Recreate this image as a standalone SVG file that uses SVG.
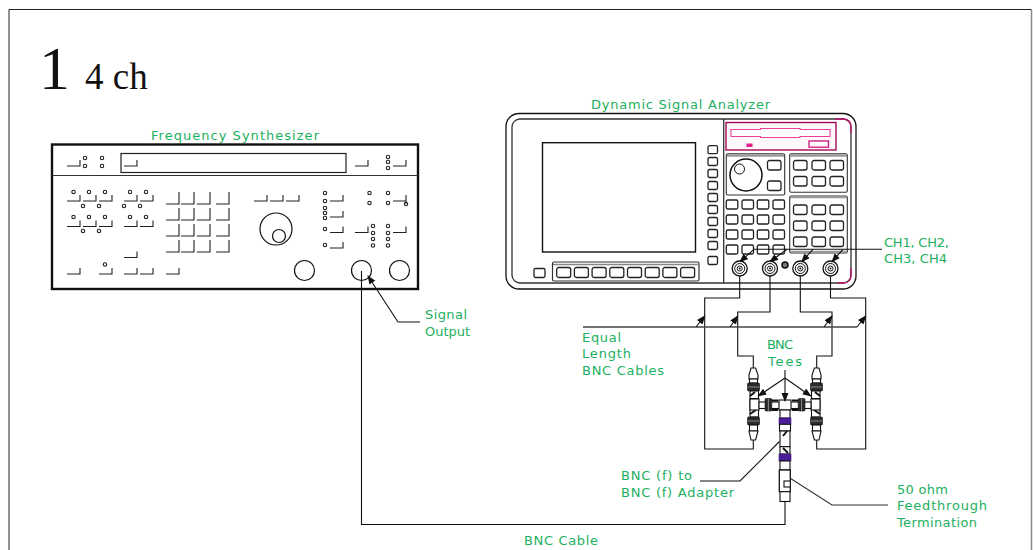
<svg xmlns="http://www.w3.org/2000/svg" xmlns:xlink="http://www.w3.org/1999/xlink" width="1033" height="550" viewBox="0 0 1033 550">
<style>
.t{font-family:"Liberation Serif",serif;fill:#111}
.l{font-family:"DejaVu Sans",sans-serif;font-size:13px;fill:#1cb060}
.o{fill:none;stroke:#111;stroke-width:1.2}
.k{fill:#fff;stroke:#222;stroke-width:1.3}
.c{fill:none;stroke:#111;stroke-width:1.1}
.m{fill:none;stroke:#c0106a;stroke-width:1.3}
.w{fill:#fff;stroke:#111;stroke-width:1.1}
.h{fill:#2a2a2a;stroke:#111;stroke-width:.6}
.z{fill:none;stroke:#111;stroke-width:2}
</style>
<defs>
<marker id="a" markerWidth="10" markerHeight="8" refX="8" refY="3.500" orient="auto" markerUnits="userSpaceOnUse"><path d="M0 0L9 3.500L0 7Z" fill="#111"/></marker>
<path id="s" d="M0 0H13V-6" fill="none" stroke="#222" stroke-width="1.1"/>
<path id="g" d="M0 0H13V-12" fill="none" stroke="#222" stroke-width="1.1"/>
<circle id="d" r="1.700" fill="none" stroke="#222" stroke-width="1.100"/>
<rect id="b" width="13.500" height="9.500" rx="2" class="k"/>
<rect id="p" width="11.500" height="9" rx="1.500" class="k"/>
<rect id="v" width="9.500" height="8" rx="1.500" class="k"/>
<rect id="f" width="14" height="10" rx="2" class="k"/>
<g id="j"><circle r="7.500" fill="#fff" stroke="#111" stroke-width="1.300"/><circle r="5" fill="none" stroke="#111"/><circle r="2.500" fill="none" stroke="#111"/><circle r="1" fill="#111"/></g>
<g id="half">
<path class="w" d="M751 368H755.600L758 375V379H749V375Z"/>
<rect class="w" x="749.500" y="379" width="8" height="4"/>
<rect class="h" x="747.500" y="383" width="12" height="8" rx="1"/>
<path d="M748 387H759" stroke="#888"/>
<rect class="w" x="750" y="391" width="8.500" height="26"/>
<path class="z" d="M750 396L755 392M750 399H758.500M750 414L756 410"/>
<rect class="h" x="747.500" y="417" width="12" height="8" rx="1"/>
<path d="M748 421H759" stroke="#888"/>
<rect class="w" x="749.500" y="425" width="8" height="6"/>
<path class="w" d="M749 431H758L755.600 440H751Z"/>
<rect class="w" x="750" y="399" width="9" height="11"/>
<rect class="w" x="759" y="402" width="20.500" height="6.500"/>
<rect class="h" x="765" y="398.500" width="6.800" height="12.500" rx="1"/>
<path d="M768.400 399V411" stroke="#888"/>
<path class="z" d="M771.800 400.500H778M771.800 410H778"/>
</g>
</defs>

<path d="M9 9.500H1031.500M9 9.500V550" fill="none" stroke="#222"/>
<path d="M1031.500 10V550" stroke="#888" stroke-width="1.500"/>
<g id="title">
<text class="t" x="39" y="89" font-size="62">1</text>
<text class="t" x="85" y="89" font-size="37">4 ch</text>
</g>

<g id="synthesizer">
<rect x="52" y="144.500" width="366" height="144.500" fill="#fff" stroke="#111" stroke-width="2.400"/>
<path d="M52 175.500H418" stroke="#333" stroke-width="1.200"/>
<rect x="121" y="153.500" width="225" height="19" fill="none" stroke="#222" stroke-width="1.200"/>
<g>
<use href="#s" x="67" y="166"/><use href="#s" x="124" y="166"/><use href="#s" x="355" y="166"/><use href="#s" x="393" y="166"/>
<use href="#d" x="85" y="158"/><use href="#d" x="85" y="166"/><use href="#d" x="102" y="158"/><use href="#d" x="102" y="166"/>
<use href="#d" x="388" y="157"/><use href="#d" x="388" y="162"/><use href="#d" x="388" y="168"/>
<use href="#s" x="67" y="201"/><use href="#s" x="83" y="201"/><use href="#s" x="99" y="201"/><use href="#s" x="124" y="201"/><use href="#s" x="140" y="201"/>
<use href="#d" x="73.500" y="192"/><use href="#d" x="89" y="192"/><use href="#d" x="105" y="192"/><use href="#d" x="130" y="192"/><use href="#d" x="146" y="192"/>
<use href="#d" x="83" y="206"/><use href="#d" x="99" y="206"/><use href="#d" x="124" y="206"/><use href="#d" x="140" y="206"/>
<use href="#s" x="67" y="226.500"/><use href="#s" x="83" y="226.500"/><use href="#s" x="99" y="226.500"/><use href="#s" x="124" y="226.500"/><use href="#s" x="140" y="226.500"/>
<use href="#d" x="73.500" y="217"/><use href="#d" x="89" y="217"/><use href="#d" x="105" y="217"/><use href="#d" x="130" y="217"/><use href="#d" x="146" y="217"/>
<use href="#d" x="83" y="231"/><use href="#d" x="99" y="231"/>
<use href="#g" x="166" y="204"/><use href="#g" x="181" y="204"/><use href="#g" x="197" y="204"/><use href="#g" x="216" y="204"/>
<use href="#g" x="166" y="220"/><use href="#g" x="181" y="220"/><use href="#g" x="197" y="220"/><use href="#g" x="216" y="220"/>
<use href="#g" x="166" y="236"/><use href="#g" x="181" y="236"/><use href="#g" x="197" y="236"/><use href="#g" x="216" y="236"/>
<use href="#g" x="166" y="252"/><use href="#g" x="181" y="252"/><use href="#g" x="197" y="252"/><use href="#g" x="216" y="252"/>
<use href="#s" x="124" y="257.500"/>
<use href="#s" x="67" y="274"/><use href="#s" x="99" y="274"/><use href="#s" x="124" y="274"/><use href="#s" x="140" y="274"/><use href="#s" x="166" y="274"/>
<use href="#d" x="105" y="264.500"/>
<use href="#s" x="254" y="201"/><use href="#s" x="270" y="201"/><use href="#s" x="286" y="201"/>
<use href="#s" x="330" y="201"/><use href="#s" x="330" y="217"/><use href="#s" x="330" y="232.500"/><use href="#s" x="330" y="248"/>
<use href="#d" x="325" y="193"/><use href="#d" x="325" y="201"/><use href="#d" x="325" y="208"/><use href="#d" x="325" y="213"/><use href="#d" x="325" y="218"/><use href="#d" x="325" y="229"/><use href="#d" x="325" y="245"/>
<use href="#d" x="369.500" y="193"/><use href="#d" x="369.500" y="203"/><use href="#d" x="388" y="193"/><use href="#d" x="388" y="203"/><use href="#s" x="393" y="201"/><path d="M406 201V204" stroke="#222"/><use href="#d" x="406" y="204"/>
<use href="#s" x="355" y="232.500"/><use href="#s" x="393" y="232.500"/>
<use href="#d" x="373" y="226"/><use href="#d" x="373" y="233"/><use href="#d" x="373" y="239"/><use href="#d" x="373" y="245.500"/>
<use href="#d" x="388" y="226"/><use href="#d" x="388" y="233"/><use href="#d" x="388" y="239"/><use href="#d" x="388" y="245.500"/>
</g>
<circle class="o" cx="276" cy="229" r="16"/><circle class="o" cx="279" cy="236" r="6.500"/>
<circle class="o" cx="304.500" cy="270.500" r="10"/><circle class="o" cx="361.500" cy="270.500" r="10"/><circle class="o" cx="399.500" cy="270.500" r="10"/>
</g>

<g id="analyzer">
<rect x="506" y="113.500" width="350" height="175.500" rx="13" fill="#fff" stroke="#111" stroke-width="1.300"/>
<rect x="512" y="119" width="339" height="164" rx="8" fill="none" stroke="#333" stroke-width="1.300"/>
<path class="m" d="M835 119H843Q851 119 851 127V133M851 268V275Q851 283 843 283H838"/>
<path d="M723.700 119V283" stroke="#333" stroke-width="1.300"/>
<rect x="542.500" y="142.700" width="153" height="109.300" fill="#fff" stroke="#111" stroke-width="1.400"/>
<rect x="534" y="268.500" width="11" height="9" rx="1.500" class="k"/>
<rect x="552.500" y="262" width="146.500" height="19" rx="1.500" fill="#fff" stroke="#333" stroke-width="1.200"/>
<path d="M553 264.500H698" stroke="#888" stroke-width="1.500"/>
<use href="#f" x="556.700" y="267.500"/><use href="#f" x="574.400" y="267.500"/><use href="#f" x="592.100" y="267.500"/><use href="#f" x="609.800" y="267.500"/><use href="#f" x="627.500" y="267.500"/><use href="#f" x="645.200" y="267.500"/><use href="#f" x="662.900" y="267.500"/><use href="#f" x="680.600" y="267.500"/>
<use href="#v" x="708" y="145.700"/><use href="#v" x="708" y="157.500"/><use href="#v" x="708" y="169.500"/><use href="#v" x="708" y="181.500"/><use href="#v" x="708" y="193.500"/><use href="#v" x="708" y="205.500"/><use href="#v" x="708" y="217.500"/><use href="#v" x="708" y="229.500"/><use href="#v" x="708" y="241.500"/><use href="#v" x="708" y="256.500"/>
<g id="floppy">
<rect x="726" y="122.500" width="110" height="27.500" fill="#fff8fb" stroke="#a00a5a" stroke-width="1.400"/>
<path d="M731 129.500H760.500V128.500H800V129.500H830V136.500H800V137.500H760.500V136.500H731Z" fill="#fff" stroke="#e8409a" stroke-width="1.100"/>
<rect x="746.500" y="143.500" width="6" height="3.500" fill="#e0208a"/>
<rect x="809" y="141" width="19.500" height="6.200" fill="#fff" stroke="#d01078" stroke-width="1.300"/>
</g>
<rect x="726.300" y="153.700" width="58.400" height="41.300" rx="1.500" fill="#fff" stroke="#333" stroke-width="1.100"/>
<path d="M727 155.500H784" stroke="#999" stroke-width="2.500"/>
<circle cx="746" cy="175" r="16" fill="#fff" stroke="#111" stroke-width="1.500"/><circle cx="739.500" cy="169" r="5" class="o" style="stroke-width:1"/>
<use href="#b" x="767.500" y="160.500"/><use href="#b" x="767.500" y="181"/>
<rect x="789.700" y="153.700" width="57.600" height="38.600" rx="1.500" fill="#fff" stroke="#333" stroke-width="1.100"/>
<path d="M790 155.500H847" stroke="#999" stroke-width="2.500"/>
<rect x="789.700" y="196" width="57.600" height="57" rx="1.500" fill="#fff" stroke="#333" stroke-width="1.100"/>
<path d="M790 197.500H847" stroke="#999" stroke-width="1.500"/>
<path d="M790 251.500H847" stroke="#999" stroke-width="1.500"/>
<use href="#b" x="793.500" y="160.500"/><use href="#b" x="812" y="160.500"/><use href="#b" x="830" y="160.500"/>
<use href="#b" x="793.500" y="176.500"/><use href="#b" x="812" y="176.500"/><use href="#b" x="830" y="176.500"/>
<use href="#b" x="793.500" y="205"/><use href="#b" x="812" y="205"/><use href="#b" x="830" y="205"/>
<use href="#b" x="793.500" y="221"/><use href="#b" x="812" y="221"/><use href="#b" x="830" y="221"/>
<use href="#b" x="793.500" y="237"/><use href="#b" x="812" y="237"/><use href="#b" x="830" y="237"/>
<use href="#p" x="726.300" y="200"/><use href="#p" x="742" y="200"/><use href="#p" x="757.300" y="200"/><use href="#p" x="773" y="200"/>
<use href="#p" x="726.300" y="215"/><use href="#p" x="742" y="215"/><use href="#p" x="757.300" y="215"/><use href="#p" x="773" y="215"/>
<use href="#p" x="726.300" y="230"/><use href="#p" x="742" y="230"/><use href="#p" x="757.300" y="230"/><use href="#p" x="773" y="230"/>
<use href="#p" x="726.300" y="245"/><use href="#p" x="742" y="245"/><use href="#p" x="757.300" y="245"/><use href="#p" x="773" y="245"/>
<use href="#j" x="739.700" y="268.500"/><use href="#j" x="770" y="268.500"/><use href="#j" x="800.300" y="268.500"/><use href="#j" x="830.500" y="268.500"/>
<circle cx="785" cy="265" r="3" fill="#777" stroke="#111" stroke-width="1.500"/>
</g>

<g id="connectors">
<path class="c" d="M361.500 271V524.500H785V501.500"/>
<path class="c" d="M739.700 276V298H704.700V449H753.300V440"/>
<path class="c" d="M770 276V312H737.700V356H753.300V368"/>
<path class="c" d="M800.300 276V312H832V356H816.700V368"/>
<path class="c" d="M830.500 276V298H865.700V449H816.700V440"/>
</g>

<g id="leaders">
<path class="c" d="M420 322H398L368 276" marker-end="url(#a)"/>
<path class="c" d="M882 249.300H753"/>
<path class="c" d="M754 249.300L740 261.700" marker-end="url(#a)"/>
<path class="c" d="M787 249.300L770 261.700" marker-end="url(#a)"/>
<path class="c" d="M813 249.300L801.700 261.700" marker-end="url(#a)"/>
<path class="c" d="M843 249.300L832 261.700" marker-end="url(#a)"/>
<path d="M583 327H857" fill="none" stroke="#444" stroke-width="1.300"/>
<path class="c" d="M696 327L704.700 316" marker-end="url(#a)"/>
<path class="c" d="M730 327L737.700 316" marker-end="url(#a)"/>
<path class="c" d="M824 327L832 316" marker-end="url(#a)"/>
<path class="c" d="M857 327L865.700 316" marker-end="url(#a)"/>
<path class="c" d="M700 481H740L779.500 441.500"/>
<path class="c" d="M791 478.700L832 505H888" style="stroke:#333"/>
</g>

<g id="tee-assembly">
<use href="#half"/>
<use href="#half" transform="translate(1570 0) scale(-1 1)"/>
<rect class="w" x="779" y="400" width="12" height="10"/>
<rect class="w" x="780" y="410" width="10" height="8"/>
<rect x="779" y="418" width="12" height="6.300" fill="#4a1e96" stroke="#3a1878" stroke-width=".6"/>
<rect class="w" x="779.500" y="424.300" width="11" height="6.700"/>
<rect class="w" x="780" y="431" width="10" height="15.700"/>
<path class="z" d="M787 431L783 436"/>
<rect class="w" x="780" y="446.700" width="10" height="7.300"/>
<path class="z" d="M783 448L788 453"/>
<rect x="779" y="454" width="12" height="7" fill="#4a1e96" stroke="#3a1878" stroke-width=".6"/>
<rect class="w" x="780" y="461" width="10" height="9"/>
<rect x="779.300" y="470" width="11" height="21.700" fill="#fff" stroke="#111" stroke-width="1.300"/>
<rect class="w" x="784" y="481" width="6.300" height="6"/>
<rect class="w" x="780" y="491.700" width="10" height="9.800"/>
</g>

<g id="tee-arrows">
<path class="c" d="M785 370V401" marker-end="url(#a)"/>
<path class="c" d="M785 378L758.300 396" marker-end="url(#a)"/>
<path class="c" d="M785 378L810.700 396" marker-end="url(#a)"/>
</g>

<g id="labels">
<text class="l" x="151" y="140" textLength="168">Frequency Synthesizer</text>
<text class="l" x="591" y="109" textLength="179">Dynamic Signal Analyzer</text>
<text class="l" x="884" y="247" textLength="65">CH1, CH2,</text>
<text class="l" x="884" y="263" textLength="63">CH3, CH4</text>
<text class="l" x="425" y="319" textLength="42">Signal</text>
<text class="l" x="425" y="336" textLength="45">Output</text>
<text class="l" x="582" y="342" textLength="39">Equal</text>
<text class="l" x="582" y="358" textLength="49">Length</text>
<text class="l" x="582" y="375" textLength="82">BNC Cables</text>
<text class="l" x="767" y="349" textLength="26">BNC</text>
<text class="l" x="768" y="366" textLength="34">Tees</text>
<text class="l" x="621" y="480" textLength="71">BNC (f) to</text>
<text class="l" x="621" y="497" textLength="113">BNC (f) Adapter</text>
<text class="l" x="897" y="494" textLength="51">50 ohm</text>
<text class="l" x="897" y="510" textLength="90">Feedthrough</text>
<text class="l" x="897" y="527" textLength="80">Termination</text>
<text class="l" x="524" y="545" textLength="74">BNC Cable</text>
</g>
</svg>
